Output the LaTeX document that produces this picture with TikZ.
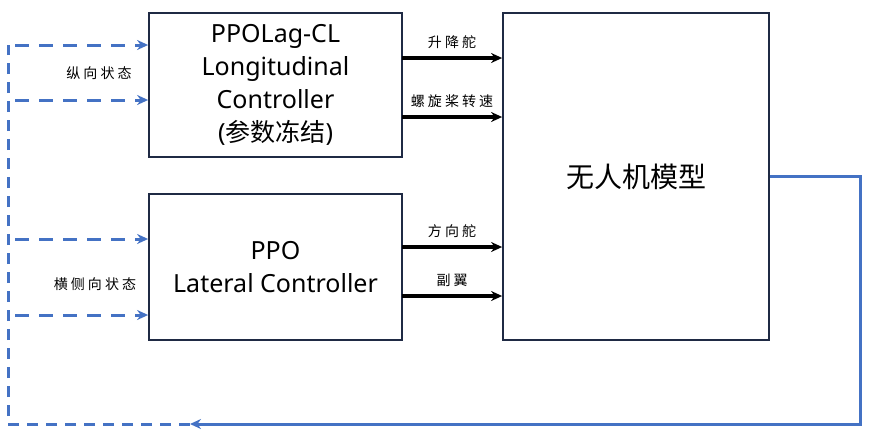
\documentclass[tikz,border=0pt]{standalone}
\usepackage{fontspec}
\setmainfont{Noto Sans}
\newfontfamily\cjk{Noto Sans CJK SC}
\newfontfamily\cjklabel[LetterSpace=22]{Noto Sans CJK SC}
\usetikzlibrary{arrows.meta, positioning}

\definecolor{boxline}{HTML}{1F2A44}
\definecolor{fbblue}{HTML}{4472C4}

\begin{document}
\begin{tikzpicture}[x=1pt, y=-1pt]
\useasboundingbox (0,0) rectangle (869,445);

\begin{scope}[every node/.style={draw=boxline, line width=1.8pt, align=center,
                                 font=\fontsize{25}{33}\selectfont}]
    \node[minimum width=253pt, minimum height=144pt] (long) at (275.5,85)
        {PPOLag-CL\\Longitudinal\\Controller\\({\cjk 参数冻结})};
    \node[minimum width=253pt, minimum height=146pt] (lat) at (275.5,267)
        {PPO\\Lateral Controller};
    \node[minimum width=266pt, minimum height=327pt, font=\cjk\fontsize{28}{30}\selectfont]
        (uav) at (636,176.5) {无人机模型};
\end{scope}

% control outputs
\coordinate (e) at (402,58);
\coordinate (t) at (402,117);
\coordinate (r) at (402,247);
\coordinate (a) at (402,296);

\begin{scope}[>={Stealth[length=11pt, width=10pt]},
              every edge/.style={draw=black, line width=3.4pt},
              every node/.style={font=\cjklabel\fontsize{14}{16}\selectfont, above=4pt}]
    \path [->] (e) edge node {升降舵} (e -| uav.west);
    \path [->] (t) edge node {螺旋桨转速} (t -| uav.west);
    \path [->] (r) edge node {方向舵} (r -| uav.west);
    \path [->] (a) edge node {副翼} (a -| uav.west);
\end{scope}

% state feedback
\coordinate (s1) at (15,45);
\coordinate (s2) at (15,100);
\coordinate (s3) at (15,239);
\coordinate (s4) at (15,315);
\coordinate (out) at (860,176);
\coordinate (fb) at (190,424);

\begin{scope}[fbblue, line width=3pt, >={Stealth[length=11pt, width=10pt]}]
    \draw (uav.east |- out) -- (out) -- (out |- fb) -- ++(-20,0) coordinate (fbend);
    \draw [->] (fbend) -- (fb);
    \draw [dash pattern=on 11pt off 8pt] (fb) -- (8,424) -- (8,45);
    \draw [->, dash pattern=on 14pt off 10pt] (s1) -- (s1 -| long.west);
    \draw [->, dash pattern=on 14pt off 10pt] (s2) -- (s2 -| long.west);
    \draw [->, dash pattern=on 14pt off 10pt] (s3) -- (s3 -| lat.west);
    \draw [->, dash pattern=on 14pt off 10pt] (s4) -- (s4 -| lat.west);
\end{scope}

\node[font=\cjklabel\fontsize{14}{16}\selectfont] (lonstate) at (99,73) {纵向状态};
\node[font=\cjklabel\fontsize{14}{16}\selectfont] (latstate) at (95,284) {横侧向状态};
\end{tikzpicture}
\end{document}
